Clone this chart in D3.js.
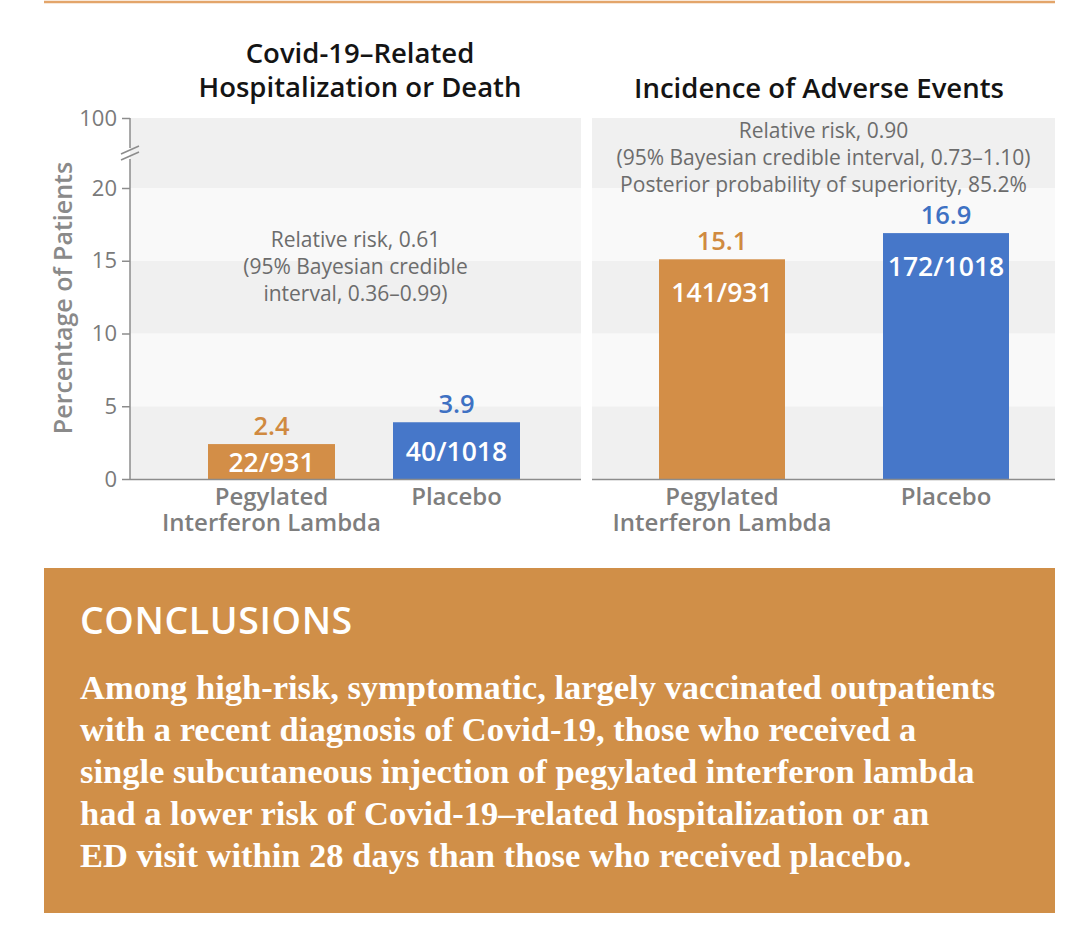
<!DOCTYPE html>
<html>
<head>
<meta charset="utf-8">
<script src="https://cdn.jsdelivr.net/npm/d3@7"></script>
<style>
  body { margin: 0; background: #fff; }
  svg { display: block; }
  .sans { font-family: 'Open Sans', 'Noto Sans', sans-serif; }
</style>
</head>
<body>
<svg id="chart" width="1070" height="935"></svg>
<script>
'use strict';

// data
var categories = ['Pegylated\nInterferon Lambda', 'Placebo'];
var hospPct = [2.4, 3.9];
var hospCounts = ['22/931', '40/1018'];
var aePct = [15.1, 16.9];
var aeCounts = ['141/931', '172/1018'];
var yTicks = [0, 5, 10, 15, 20, 100];
var bandStops = [0, 5, 10, 15, 20, 100];
var panelTitles = [['Covid-19\u2013Related', 'Hospitalization or Death'], ['Incidence of Adverse Events']];
var hospNote = ['Relative risk, 0.61', '(95% Bayesian credible', 'interval, 0.36\u20130.99)'];
var aeNote = ['Relative risk, 0.90', '(95% Bayesian credible interval, 0.73\u20131.10)', 'Posterior probability of superiority, 85.2%'];
var conclusionLines = [
  'Among high-risk, symptomatic, largely vaccinated outpatients',
  'with a recent diagnosis of Covid-19, those who received a',
  'single subcutaneous injection of pegylated interferon lambda',
  'had a lower risk of Covid-19\u2013related hospitalization or an',
  'ED visit within 28 days than those who received placebo.'
];

var barColors = ['#d38e47', '#4677c9'];
var labelColors = ['#d08a40', '#3e71c3'];

var svg = d3.select('#chart');

// top rule
svg.append('line')
  .attr('x1', 44).attr('x2', 1055)
  .attr('y1', 2).attr('y2', 2)
  .style('stroke', '#e3a56a').style('stroke-width', 2.5);

// broken y scale: 0-20 linear, then 20-100 squeezed
var y = d3.scaleLinear().domain([0, 20, 100]).range([479, 188, 118]);

var panels = [
  {x0: 130, x1: 581, range: [208, 520], pad: 0.3135, values: hospPct, counts: hospCounts, note: hospNote, noteY: 239, titleX: 360, title: panelTitles[0]},
  {x0: 592, x1: 1055, range: [659, 1009], pad: 0.4375, values: aePct, counts: aeCounts, note: aeNote, noteY: 130, titleX: 819, title: panelTitles[1]}
];

panels.forEach(function(p, pi)
{
  var g = svg.append('g');

  // alternating background bands
  g.selectAll('rect.band')
    .data(d3.pairs(bandStops))
    .enter().append('rect')
    .attr('class', 'band')
    .attr('x', p.x0)
    .attr('width', p.x1 - p.x0)
    .attr('y', function(d) { return y(d[1]); })
    .attr('height', function(d) { return y(d[0]) - y(d[1]); })
    .style('fill', function(d, i) { return i % 2 === 0 ? '#f0f0f0' : '#f9f9f9'; });

  var x = d3.scaleBand()
    .domain(categories)
    .range(p.range)
    .paddingInner(p.pad)
    .paddingOuter(0);

  // bars
  g.selectAll('rect.bar')
    .data(p.values)
    .enter().append('rect')
    .attr('class', 'bar')
    .attr('x', function(d, i) { return x(categories[i]); })
    .attr('width', x.bandwidth())
    .attr('y', function(d) { return y(d); })
    .attr('height', function(d) { return y(0) - y(d); })
    .style('fill', function(d, i) { return barColors[i]; });

  // x axis line
  g.append('line')
    .attr('x1', p.x0).attr('x2', p.x1)
    .attr('y1', y(0) + 0.5).attr('y2', y(0) + 0.5)
    .style('stroke', '#8c8c8c').style('stroke-width', 1.5);

  // values above bars
  g.selectAll('text.val')
    .data(p.values)
    .enter().append('text')
    .attr('class', 'val sans')
    .attr('x', function(d, i) { return x(categories[i]) + x.bandwidth() / 2; })
    .attr('y', function(d) { return y(d) - 18; })
    .attr('dy', '0.36em')
    .attr('text-anchor', 'middle')
    .style('font-size', '25.5px').style('font-weight', 600)
    .style('fill', function(d, i) { return labelColors[i]; })
    .text(function(d) { return d3.format('.1f')(d); });

  // counts inside bars
  g.selectAll('text.cnt')
    .data(p.values)
    .enter().append('text')
    .attr('class', 'cnt sans')
    .attr('x', function(d, i) { return x(categories[i]) + x.bandwidth() / 2; })
    .attr('y', function(d) { return Math.min(y(d) + 33, (y(d) + y(0)) / 2 + 1); })
    .attr('dy', '0.36em')
    .attr('text-anchor', 'middle')
    .style('font-size', '26.5px').style('font-weight', 600)
    .style('fill', '#fff')
    .text(function(d, i) { return p.counts[i]; });

  // category labels, one text per line
  categories.forEach(function(c, i)
  {
    c.split('\n').forEach(function(line, li)
    {
      g.append('text')
        .attr('class', 'sans')
        .attr('x', x(c) + x.bandwidth() / 2)
        .attr('y', 496 + li * 26)
        .attr('dy', '0.36em')
        .attr('text-anchor', 'middle')
        .style('font-size', '24px').style('font-weight', 600)
        .style('fill', '#7e7e7e')
        .text(line);
    });
  });

  // note text
  g.selectAll('text.note')
    .data(p.note)
    .enter().append('text')
    .attr('class', 'note sans')
    .attr('x', (p.x0 + p.x1) / 2)
    .attr('y', function(d, i) { return p.noteY + i * 27; })
    .attr('dy', '0.36em')
    .attr('text-anchor', 'middle')
    .style('font-size', '21px')
    .style('fill', '#6c6c6c')
    .text(function(d) { return d; });

  // panel title
  g.selectAll('text.title')
    .data(p.title)
    .enter().append('text')
    .attr('class', 'title sans')
    .attr('x', p.titleX)
    .attr('y', function(d, i) { return (p.title.length === 2 ? 53 : 88) + i * 34; })
    .attr('dy', '0.36em')
    .attr('text-anchor', 'middle')
    .style('font-size', '27.5px').style('font-weight', 600)
    .style('fill', '#141414')
    .text(function(d) { return d; });
});

// y axis with break
var axisG = svg.append('g')
  .attr('class', 'sans')
  .attr('transform', 'translate(130,0)')
  .call(d3.axisLeft(y).tickValues(yTicks).tickSize(8).tickPadding(5));

axisG.select('.domain').remove();
axisG.selectAll('.tick line').style('stroke', '#8c8c8c').style('stroke-width', 1.5);
axisG.selectAll('.tick text')
  .style('font-size', '22px')
  .style('font-family', "'Open Sans', sans-serif")
  .style('fill', '#7a7a7a');

axisG.append('line')
  .attr('x1', 0).attr('x2', 0).attr('y1', y(100)).attr('y2', 148)
  .style('stroke', '#8c8c8c').style('stroke-width', 1.5);
axisG.append('line')
  .attr('x1', 0).attr('x2', 0).attr('y1', 159).attr('y2', y(0))
  .style('stroke', '#8c8c8c').style('stroke-width', 1.5);
[0, 6].forEach(function(off)
{
  axisG.append('line')
    .attr('x1', -9).attr('y1', 154 + off)
    .attr('x2', 9).attr('y2', 146 + off)
    .style('stroke', '#8c8c8c').style('stroke-width', 1.5);
});

svg.append('text')
  .attr('class', 'sans')
  .attr('transform', 'translate(63,298) rotate(-90)')
  .attr('dy', '0.36em')
  .attr('text-anchor', 'middle')
  .style('font-size', '25px').style('font-weight', 600)
  .style('fill', '#8a8a8a')
  .text('Percentage of Patients');

// conclusions box
svg.append('rect')
  .attr('x', 44).attr('y', 568)
  .attr('width', 1011).attr('height', 345)
  .style('fill', '#d08f48');

svg.append('text')
  .attr('class', 'sans')
  .attr('x', 80).attr('y', 620)
  .attr('dy', '0.36em')
  .style('font-size', '37.5px').style('font-weight', 600)
  .style('letter-spacing', '0.6px')
  .style('fill', '#fff')
  .text('CONCLUSIONS');

svg.selectAll('text.concl')
  .data(conclusionLines)
  .enter().append('text')
  .attr('class', 'concl')
  .attr('x', 80)
  .attr('y', function(d, i) { return 688 + i * 42; })
  .attr('dy', '0.32em')
  .style('font-family', "'Liberation Serif', serif")
  .style('font-size', '34.5px').style('font-weight', 700)
  .style('fill', '#fff')
  .text(function(d) { return d; });
</script>
</body>
</html>
